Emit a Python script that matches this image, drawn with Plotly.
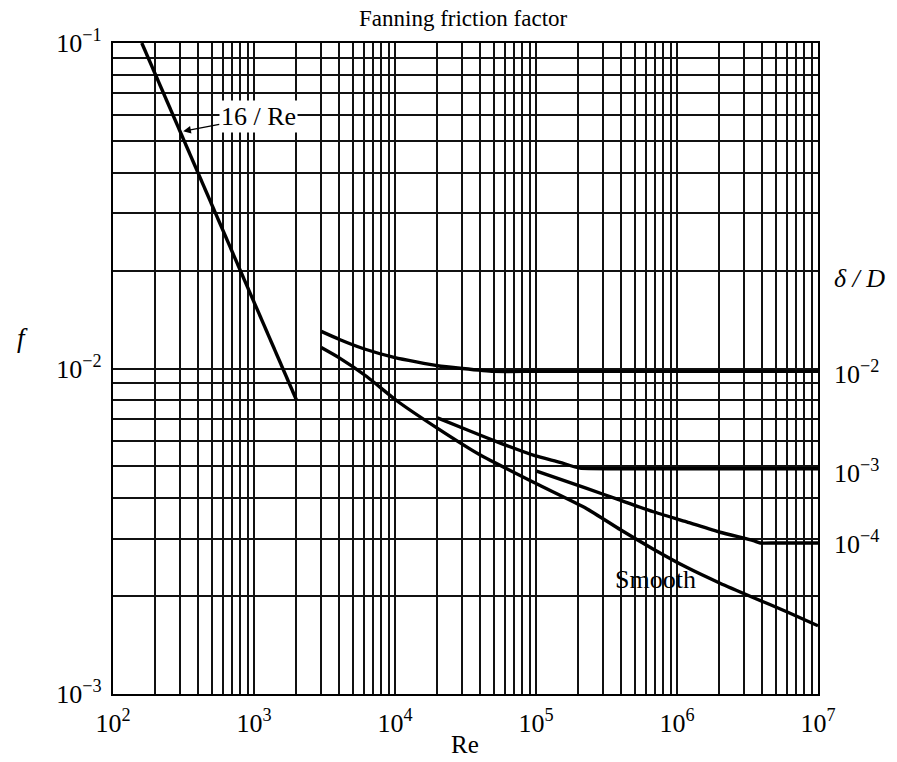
import plotly.graph_objects as go

# ---- data ----
re_laminar = [160, 2000]
f_laminar = [0.1, 0.008]

re_rough_1e2 = [3000, 4000, 6000, 10000, 20000, 30000, 50000, 100000, 1e6, 1e7]
f_rough_1e2 = [0.0130, 0.0123, 0.0115, 0.0108, 0.0102, 0.0100, 0.0098, 0.0098, 0.0098, 0.0098]

re_rough_1e3 = [20000, 33000, 57000, 98000, 148000, 205000, 400000, 1e6, 1e7]
f_rough_1e3 = [0.00705, 0.00646, 0.00588, 0.00540, 0.00515, 0.00494, 0.00492, 0.00492, 0.00492]

re_rough_1e4 = [101000, 229000, 395000, 679000, 1.17e6, 2.02e6, 3.48e6, 3.9e6, 5e6, 1e7]
f_rough_1e4 = [0.00484, 0.00428, 0.00394, 0.00363, 0.00338, 0.00314, 0.00296, 0.00291,
               0.00291, 0.00291]

re_smooth = [3000, 4000, 6300, 10300, 19800, 40000, 100000, 229000, 395000,
             676000, 1.17e6, 2.02e6, 3.46e6, 6.0e6, 1e7]
f_smooth = [0.0116, 0.0108, 0.00945, 0.00796, 0.00657, 0.00543, 0.00443, 0.00371,
            0.00320, 0.00279, 0.00245, 0.00219, 0.00198, 0.00179, 0.00162]

x_decades = [2, 3, 4, 5, 6, 7]
y_decades = [-3, -2, -1]
roughness_labels = ["10<sup>−2</sup>", "10<sup>−3</sup>", "10<sup>−4</sup>"]


def decade_ticks(decades):
    vals = [10.0 ** k for k in decades]
    text = ["10<sup>" + str(k).replace("-", "−") + "</sup>" for k in decades]
    return vals, text


def minor_vals(decades):
    return [m * 10.0 ** k for k in decades[:-1] for m in range(2, 10)]


xt_vals, xt_text = decade_ticks(x_decades)
yt_vals, yt_text = decade_ticks(y_decades)

FONT = "Liberation Serif, Times New Roman, serif"
LW = 3.4
GRID = "#111111"
GW = 1.5

fig = go.Figure()
for xs, ys in [(re_laminar, f_laminar), (re_rough_1e2, f_rough_1e2),
               (re_rough_1e3, f_rough_1e3), (re_rough_1e4, f_rough_1e4),
               (re_smooth, f_smooth)]:
    fig.add_trace(go.Scatter(x=xs, y=ys, mode="lines",
                             line=dict(color="black", width=LW, shape="spline", smoothing=0.5),
                             showlegend=False, hoverinfo="skip"))

axis_common = dict(
    type="log", showgrid=True, gridcolor=GRID, gridwidth=GW,
    showline=True, linecolor="black", linewidth=2.2, mirror=True,
    ticks="", zeroline=False, tickfont=dict(family=FONT, size=26, color="black"),
)
fig.update_xaxes(range=[2, 7], tickmode="array", tickvals=xt_vals, ticktext=xt_text,
                 tickangle=0, ticklabelstandoff=5,
                 minor=dict(tickmode="array", tickvals=minor_vals(x_decades),
                            showgrid=True, gridcolor=GRID, gridwidth=GW, ticks=""),
                 **axis_common)
fig.update_yaxes(range=[-3, -1], tickmode="array", tickvals=yt_vals, ticktext=yt_text,
                 ticklabelstandoff=4,
                 minor=dict(tickmode="array", tickvals=minor_vals(y_decades),
                            showgrid=True, gridcolor=GRID, gridwidth=GW, ticks=""),
                 **axis_common)

C = dict(xanchor="center", yanchor="middle", showarrow=False)
annos = []
annos.append(dict(text="Fanning friction factor", xref="paper", yref="paper",
                  x=0.4965, y=1.038, font=dict(size=23), **C))
annos.append(dict(text="Re", xref="paper", yref="paper", x=0.4993, y=-0.0783,
                  font=dict(size=25), **C))
annos.append(dict(text="<i>f</i>", xref="paper", yref="paper", x=-0.129, y=0.547,
                  font=dict(size=27), **C))
annos.append(dict(text="<i>δ / D</i>", xref="paper", yref="paper", x=1.02, y=0.6375,
                  xanchor="left", yanchor="middle", showarrow=False, font=dict(size=26)))
for lab, yp in zip(roughness_labels, [0.4931, 0.3425, 0.232]):
    annos.append(dict(text=lab, xref="paper", yref="paper", x=1.02, y=yp,
                      xanchor="left", yanchor="middle", showarrow=False,
                      font=dict(size=26)))
annos.append(dict(text="Smooth", x=5.844, y=-2.647, xref="x", yref="y",
                  font=dict(size=26), **C))
annos.append(dict(text="16 / Re", x=2.477, y=-1.273, xref="x", yref="y",
                  ax=78, ay=-15, showarrow=True, arrowhead=2, arrowsize=1.1,
                  arrowwidth=1.4, arrowcolor="black", standoff=3,
                  font=dict(size=26), bgcolor="white"))

fig.update_layout(
    width=897, height=762,
    margin=dict(l=113, r=79, t=43, b=68, autoexpand=False),
    paper_bgcolor="white", plot_bgcolor="white",
    font=dict(family=FONT, color="black"),
    annotations=annos,
)

fig.write_html("out.html", config={"displayModeBar": False},
               post_script="document.body.style.margin='0';document.body.style.padding='0';")
